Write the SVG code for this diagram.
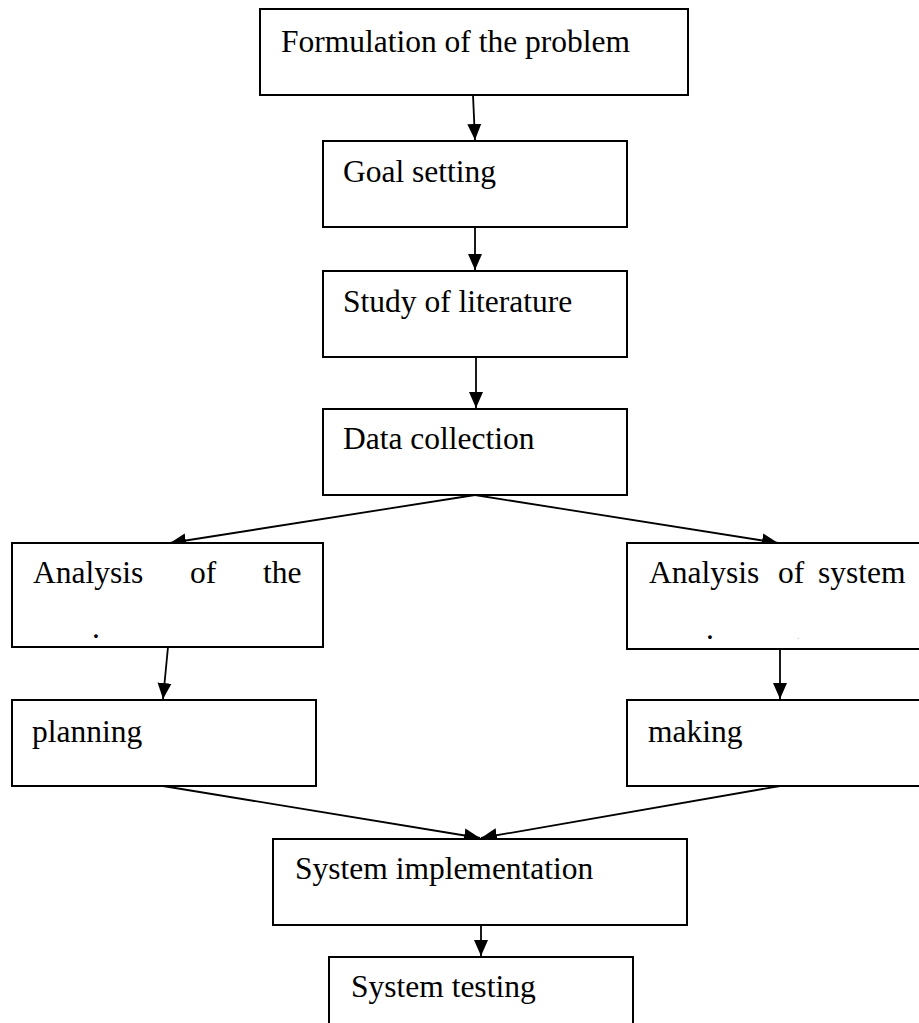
<svg xmlns="http://www.w3.org/2000/svg" width="919" height="1023" viewBox="0 0 919 1023">
  <style>
    .box { fill: #fff; stroke: #000; stroke-width: 2; }
    .lbl { font-family: "Liberation Serif", "Times New Roman", serif; font-size: 31.5px; fill: #000; }
    .edge { fill: none; stroke: #000; stroke-width: 1.8; }
  </style>
  <defs>
    <marker id="arrow" markerUnits="userSpaceOnUse" markerWidth="17" markerHeight="17" viewBox="0 0 17 17" refX="16" refY="8.5" orient="auto">
      <path d="M0,1.5 L16,8.5 L0,15.5 Z" fill="#000"/>
    </marker>
  </defs>
  <rect width="919" height="1023" fill="#fff"/>

  <g id="connectors">
    <line class="edge" x1="473" y1="95" x2="475" y2="140" marker-end="url(#arrow)"/>
    <line class="edge" x1="475" y1="227" x2="475" y2="270" marker-end="url(#arrow)"/>
    <line class="edge" x1="476" y1="357" x2="476" y2="408" marker-end="url(#arrow)"/>
    <line class="edge" x1="475" y1="495" x2="170" y2="543" marker-end="url(#arrow)"/>
    <line class="edge" x1="475" y1="495" x2="778" y2="543" marker-end="url(#arrow)"/>
    <line class="edge" x1="168" y1="647" x2="163" y2="699" marker-end="url(#arrow)"/>
    <line class="edge" x1="780" y1="649" x2="780" y2="699" marker-end="url(#arrow)"/>
    <line class="edge" x1="163" y1="786" x2="480" y2="838" marker-end="url(#arrow)"/>
    <line class="edge" x1="780" y1="786" x2="481" y2="838" marker-end="url(#arrow)"/>
    <line class="edge" x1="481" y1="925" x2="481" y2="956" marker-end="url(#arrow)"/>
  </g>

  <g id="formulation">
    <rect class="box" x="260" y="9" width="428" height="86"/>
    <text class="lbl" x="281" y="52">Formulation of the problem</text>
  </g>

  <g id="goal">
    <rect class="box" x="323" y="141" width="304" height="86"/>
    <text class="lbl" x="343" y="182">Goal setting</text>
  </g>

  <g id="literature">
    <rect class="box" x="323" y="271" width="304" height="86"/>
    <text class="lbl" x="343" y="312">Study of literature</text>
  </g>

  <g id="data">
    <rect class="box" x="323" y="409" width="304" height="86"/>
    <text class="lbl" x="343" y="449">Data collection</text>
  </g>

  <g id="analysis-left">
    <rect class="box" x="12" y="543" width="311" height="104"/>
    <text class="lbl" y="583"><tspan x="33">Analysis</tspan><tspan x="190">of</tspan><tspan x="263">the</tspan></text>
    <text class="lbl" x="92" y="638">.</text>
  </g>

  <g id="analysis-right">
    <rect class="box" x="627" y="543" width="300" height="106"/>
    <text class="lbl" y="583"><tspan x="649">Analysis</tspan><tspan x="778">of</tspan><tspan x="818">system</tspan></text>
    <text class="lbl" x="706" y="639">.</text>
    <text class="lbl" x="797" y="639" style="font-size:10px;fill:#bbb">.</text>
  </g>

  <g id="planning">
    <rect class="box" x="12" y="700" width="304" height="86"/>
    <text class="lbl" x="32" y="742">planning</text>
  </g>

  <g id="making">
    <rect class="box" x="627" y="700" width="300" height="86"/>
    <text class="lbl" x="648" y="742">making</text>
  </g>

  <g id="implementation">
    <rect class="box" x="273" y="839" width="414" height="86"/>
    <text class="lbl" x="295" y="879">System implementation</text>
  </g>

  <g id="testing">
    <rect class="box" x="329" y="957" width="304" height="86"/>
    <text class="lbl" x="351" y="997">System testing</text>
  </g>
</svg>
